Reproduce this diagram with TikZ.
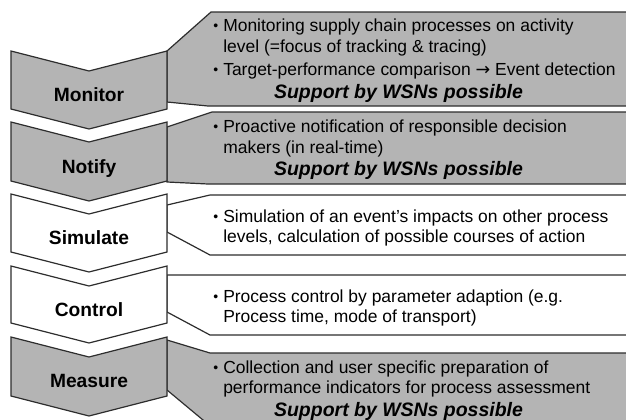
\documentclass[tikz,border=0pt]{standalone}
\usepackage{fontspec}
\setmainfont{Liberation Sans}
\newfontfamily\arrowfont{DejaVu Sans}
\definecolor{wsgrey}{RGB}{180,180,180}
\definecolor{wsline}{RGB}{45,45,45}
\begin{document}
\begin{tikzpicture}[x=0.75pt,y=-0.75pt,
  shapeline/.style={draw=wsline,line width=0.9pt,line join=miter},
  greyshape/.style={shapeline,fill=wsgrey},
  whiteshape/.style={shapeline,fill=white},
  steplabel/.style={font=\fontsize{14.4}{17}\selectfont\bfseries,inner sep=0pt,anchor=base},
  bodytext/.style={font=\fontsize{13.1}{15}\selectfont,inner sep=0pt,anchor=base west},
  bulletmark/.style={font=\fontsize{10.5}{15}\selectfont,inner sep=0pt,anchor=base west},
  supporttext/.style={font=\fontsize{14.6}{17}\selectfont\bfseries\itshape,inner sep=0pt,anchor=base}]
\useasboundingbox (0,0) rectangle (626,419);
\clip (0,0) rectangle (626,419);

% ---------- right-hand boxes ----------
\path[greyshape] (167,51) -- (211,12) -- (640,12) -- (640,106) -- (208,106) -- (167,102) -- cycle;
\path[greyshape] (167,127) -- (212,112) -- (640,112) -- (640,184) -- (208,184) -- (167,182) -- cycle;
\path[whiteshape] (167,205) -- (210,195) -- (640,195) -- (640,255) -- (210,255) -- (167,232) -- cycle;
\path[whiteshape] (167,275) -- (640,275) -- (640,335) -- (210,335) -- (167,312) -- cycle;
\path[greyshape] (167,340) -- (210,353) -- (640,353) -- (640,440) -- (227,440) -- (167,390) -- cycle;

% ---------- chevrons ----------
\path[greyshape]  (11,51)  -- (89,71)  -- (167,51)  -- (167,109) -- (89,129) -- (11,109) -- cycle;
\path[greyshape]  (11,122) -- (89,142) -- (167,122) -- (167,181) -- (89,201) -- (11,181) -- cycle;
\path[whiteshape] (11,194) -- (89,214) -- (167,194) -- (167,252) -- (89,272) -- (11,252) -- cycle;
\path[whiteshape] (11,266) -- (89,286) -- (167,266) -- (167,323) -- (89,343) -- (11,323) -- cycle;
\path[greyshape]  (11,337) -- (89,357) -- (167,337) -- (167,396) -- (89,416) -- (11,396) -- cycle;

% ---------- step labels ----------
\node[steplabel] (lmonitor)  at (89,101.5) {Monitor};
\node[steplabel] (lnotify)   at (89,173.5) {Notify};
\node[steplabel] (lsimulate) at (89,244.5) {Simulate};
\node[steplabel] (lcontrol)  at (89,316)   {Control};
\node[steplabel] (lmeasure)  at (89,387.5) {Measure};

% ---------- Monitor text ----------
\node[bulletmark] (bm1) at (213,30) {\textbullet};
\node[bodytext] (tm1) at (223,31) {Monitoring supply chain processes on activity};
\node[bodytext] (tm2) at (223,52.5) {level (=focus of tracking \& tracing)};
\node[bulletmark] (bm2) at (213,74) {\textbullet};
\node[bodytext] (tm3) at (223,75) {Target-performance comparison {\arrowfont →} Event detection};
\node[supporttext] (sm) at (398.5,98.5) {Support by WSNs possible};

% ---------- Notify text ----------
\node[bulletmark] (bn1) at (213,131) {\textbullet};
\node[bodytext] (tn1) at (223,132) {Proactive notification of responsible decision};
\node[bodytext] (tn2) at (223,153) {makers (in real-time)};
\node[supporttext] (sn) at (398.5,175) {Support by WSNs possible};

% ---------- Simulate text ----------
\node[bulletmark] (bs1) at (213,221) {\textbullet};
\node[bodytext] (ts1) at (223,222) {Simulation of an event’s impacts on other process};
\node[bodytext] (ts2) at (223,242.5) {levels, calculation of possible courses of action};

% ---------- Control text ----------
\node[bulletmark] (bc1) at (213,301) {\textbullet};
\node[bodytext] (tc1) at (223,302) {Process control by parameter adaption (e.g.};
\node[bodytext] (tc2) at (223,322.5) {Process time, mode of transport)};

% ---------- Measure text ----------
\node[bulletmark] (bme1) at (213,372) {\textbullet};
\node[bodytext] (tme1) at (223,373) {Collection and user specific preparation of};
\node[bodytext] (tme2) at (223,393.5) {performance indicators for process assessment};
\node[supporttext] (sme) at (398.5,416.5) {Support by WSNs possible};
\end{tikzpicture}
\end{document}
